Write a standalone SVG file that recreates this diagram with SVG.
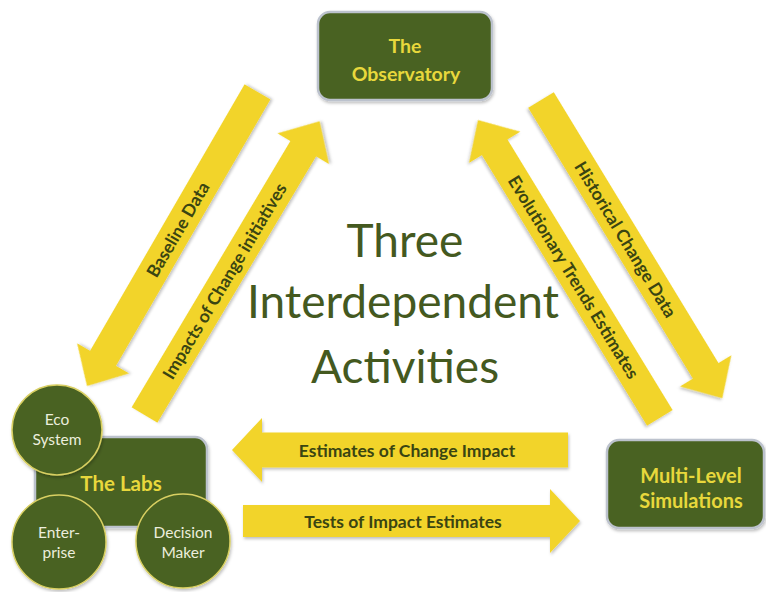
<svg xmlns="http://www.w3.org/2000/svg" width="766" height="592" viewBox="0 0 766 592">
<defs>
<filter id="sh" x="-20%" y="-20%" width="140%" height="140%">
<feDropShadow dx="1" dy="2" stdDeviation="1.5" flood-color="#000" flood-opacity="0.25"/>
</filter>
<style>
.arr{fill:#f2d42b;filter:url(#sh)}
.al{font-family:Lato,"Liberation Sans",sans-serif;font-weight:bold;font-size:17.5px;fill:#3a4512;text-anchor:middle;dominant-baseline:central}
.box{fill:#4a6220;stroke:#bcc2cd;stroke-width:2.5;filter:url(#sh)}
.circ{fill:#4a6220;stroke:#d8cf62;stroke-width:1.5;filter:url(#sh)}
.bt{font-family:Lato,"Liberation Sans",sans-serif;font-weight:bold;fill:#e8d83c;text-anchor:middle}
.ct{font-family:Lato,"Liberation Sans",sans-serif;font-size:15.5px;fill:#eceedd;text-anchor:middle}
.title{font-family:Lato,"Liberation Sans",sans-serif;font-size:46px;fill:#44591f;text-anchor:middle}
</style>
</defs>
<rect width="766" height="592" fill="#ffffff"/>
<g id="connectors">
<g id="baseline-data" transform="translate(87,386) rotate(-59.9)">
<path class="arr" d="M0,0 L32,-30 L32,-15 L340,-15 L340,15 L32,15 L32,30 Z"/>
<text class="al" x="181" y="0">Baseline Data</text>
</g>
<g id="impacts" transform="translate(144.5,415) rotate(-59.2)">
<path class="arr" d="M0,-15 L310,-15 L310,-30 L342,0 L310,30 L310,15 L0,15 Z"/>
<text class="al" x="156" y="0">Impacts of Change initiatives</text>
</g>
<g id="historical" transform="translate(541,100) rotate(58.7)">
<path class="arr" d="M0,-15 L317,-15 L317,-30 L349,0 L317,30 L317,15 L0,15 Z"/>
<text class="al" x="163" y="0">Historical Change Data</text>
</g>
<g id="evolutionary" transform="translate(478,120) rotate(58.6)">
<path class="arr" d="M0,0 L32,-30 L32,-15 L349,-15 L349,15 L32,15 L32,30 Z"/>
<text class="al" x="184" y="0">Evolutionary Trends Estimates</text>
</g>
<g id="estimates">
<path class="arr" d="M232,450 L262,418 L262,432.5 L568,432.5 L568,467.5 L262,467.5 L262,482 Z"/>
<text class="al" x="407" y="450">Estimates of Change Impact</text>
</g>
<g id="tests">
<path class="arr" d="M243,505 L550,505 L550,489 L580,521 L550,553 L550,537 L243,537 Z"/>
<text class="al" x="403" y="521">Tests of Impact Estimates</text>
</g>
</g>
<g id="title">
<text class="title" x="405" y="257">Three</text>
<text class="title" x="403" y="318">Interdependent</text>
<text class="title" x="405" y="383">Activities</text>
</g>
<g id="observatory">
<rect class="box" x="318" y="12" width="174" height="88" rx="12"/>
<text class="bt" x="405" y="53" font-size="19.5">The</text>
<text class="bt" x="406" y="81" font-size="19.5">Observatory</text>
</g>
<g id="labs">
<rect class="box" x="35" y="437" width="172" height="90" rx="12"/>
<text class="bt" x="121" y="491" font-size="20.5">The Labs</text>
</g>
<g id="eco-system">
<circle class="circ" cx="57" cy="430" r="45"/>
<text class="ct" x="57" y="425">Eco</text>
<text class="ct" x="57" y="445">System</text>
</g>
<g id="enterprise">
<circle class="circ" cx="59" cy="542" r="47"/>
<text class="ct" x="59" y="538">Enter-</text>
<text class="ct" x="59" y="558">prise</text>
</g>
<g id="decision-maker">
<circle class="circ" cx="183" cy="541" r="47"/>
<text class="ct" x="183" y="538">Decision</text>
<text class="ct" x="183" y="558">Maker</text>
</g>
<g id="multi-level">
<rect class="box" x="607" y="440" width="157" height="88" rx="12"/>
<text class="bt" x="691" y="483" font-size="20">Multi-Level</text>
<text class="bt" x="691" y="508" font-size="20">Simulations</text>
</g>
</svg>
